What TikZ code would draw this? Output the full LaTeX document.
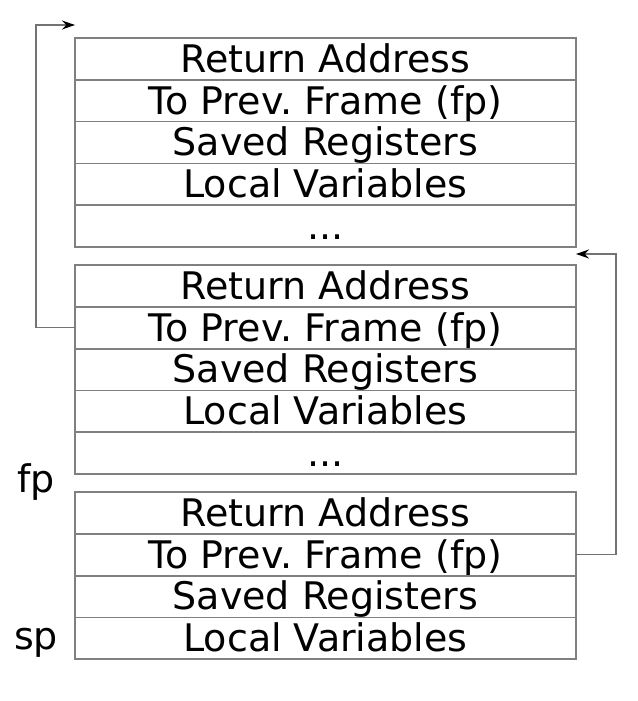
\documentclass[tikz,border=0pt]{standalone}
\usepackage{fontspec}
\setmainfont{DejaVu Sans}
\frenchspacing
\usetikzlibrary{arrows.meta, positioning}
\tikzstyle{arrow} = [line width=0.7pt, draw=black!55, -{Stealth[black, length=6.5pt, width=4.5pt]}]
\tikzstyle{slot} = [rectangle, draw=black!50, line width=0.9pt, minimum width=250.5pt, minimum height=20.9pt, inner sep=0pt, outer sep=0pt, text height=15.3pt, text depth=2pt, text centered]
\tikzstyle{pointer} = [anchor=base, inner sep=0pt]

\begin{document}
\begin{tikzpicture}[node distance=20.9pt, font=\fontsize{19}{20}\selectfont]
\useasboundingbox (0,0) rectangle (318.5pt,-350.5pt);
% Placement of nodes
% caller's caller frame
\node (ret1) [slot] at (162.75pt,-29.45pt) {Return Address};
\node (prev1) [slot, below of=ret1] {To Prev. Frame (fp)};
\node (regs1) [slot, below of=prev1] {Saved Registers};
\node (locals1) [slot, below of=regs1] {Local Variables};
\node (dots1) [slot, below of=locals1] {...};
% caller frame
\node (ret2) [slot, below of=dots1, yshift=-9pt] {Return Address};
\node (prev2) [slot, below of=ret2] {To Prev. Frame (fp)};
\node (regs2) [slot, below of=prev2] {Saved Registers};
\node (locals2) [slot, below of=regs2] {Local Variables};
\node (dots2) [slot, below of=locals2] {...};
% current frame
\node (ret3) [slot, below of=dots2, yshift=-9pt] {Return Address};
\node (prev3) [slot, below of=ret3] {To Prev. Frame (fp)};
\node (regs3) [slot, below of=prev3] {Saved Registers};
\node (locals3) [slot, below of=regs3] {Local Variables};

% Pointer labels
\node (fp) [pointer] at ([xshift=-19.5pt]ret3.north west) {fp};
\node (sp) [pointer] at ([xshift=-19.5pt, yshift=-5.5pt]locals3.west) {sp};

% Placement of edges
\coordinate (top1) at ([yshift=6.5pt]ret1.north west);
\coordinate (top2) at ([yshift=5.5pt]ret2.north east);
\draw [arrow] (prev2.west) -- ++(-19.5pt,0) |- (top1);
\draw [arrow] (prev3.east) -- ++(20pt,0) |- (top2);
\end{tikzpicture}
\end{document}
